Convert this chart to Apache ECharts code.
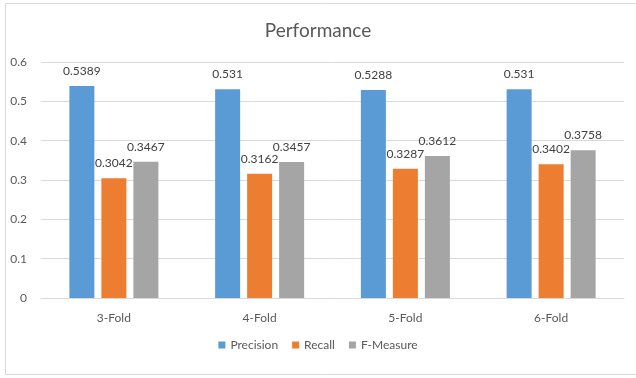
<!DOCTYPE html>
<html>
<head>
<meta charset="utf-8">
<script src="https://cdn.jsdelivr.net/npm/echarts@6/dist/echarts.min.js"></script>
<style>html,body{margin:0;padding:0;background:#fff}#c{width:636px;height:378px}</style>
</head>
<body>
<div id="c"></div>
<script>
const categories = ['3-Fold', '4-Fold', '5-Fold', '6-Fold'];
const precision = [0.5389, 0.531, 0.5288, 0.531];
const recall = [0.3042, 0.3162, 0.3287, 0.3402];
const fMeasure = [0.3467, 0.3457, 0.3612, 0.3758];
const yTicks = [0, 0.1, 0.2, 0.3, 0.4, 0.5, 0.6];

const FONT = 'Lato';
const chart = echarts.init(document.getElementById('c'), null, {renderer: 'canvas'});
const label = {
  show: true, position: 'top', distance: 9,
  fontFamily: FONT, fontSize: 12, color: '#404040',
  formatter: p => String(p.value)
};
function s(name, data, color) {
  return {
    name, type: 'bar', data, barWidth: 25, barGap: '28%',
    itemStyle: {color}, label
  };
}
chart.setOption({
  animation: false,
  backgroundColor: '#fff',
  textStyle: {fontFamily: FONT},
  title: {
    text: 'Performance', left: 'center', top: 16,
    textStyle: {fontFamily: FONT, fontSize: 19, fontWeight: 'normal', color: '#595959'}
  },
  legend: {
    bottom: 22, left: 'center', itemWidth: 7, itemHeight: 7, itemGap: 14,
    icon: 'rect',
    textStyle: {fontFamily: FONT, fontSize: 12, color: '#595959'}
  },
  grid: {left: 41, right: 12, top: 62, bottom: 80, containLabel: false},
  xAxis: {
    type: 'category', data: categories,
    axisLine: {show: true, lineStyle: {color: '#D9D9D9'}},
    axisTick: {show: false},
    axisLabel: {fontFamily: FONT, fontSize: 12, color: '#595959', margin: 14}
  },
  yAxis: {
    type: 'value', min: yTicks[0], max: yTicks[yTicks.length - 1], interval: 0.1,
    axisLine: {show: false}, axisTick: {show: false},
    splitLine: {lineStyle: {color: '#D9D9D9'}},
    axisLabel: {fontFamily: FONT, fontSize: 12, color: '#595959', margin: 14,
      formatter: v => String(Math.round(v * 10) / 10)}
  },
  graphic: [{
    type: 'rect', left: 3, top: 1, silent: true,
    shape: {width: 640, height: 371},
    style: {fill: 'none', stroke: '#D9D9D9', lineWidth: 1}
  }],
  series: [
    s('Precision', precision, '#5B9BD5'),
    s('Recall', recall, '#ED7D31'),
    s('F-Measure', fMeasure, '#A5A5A5')
  ]
});
</script>
</body>
</html>
